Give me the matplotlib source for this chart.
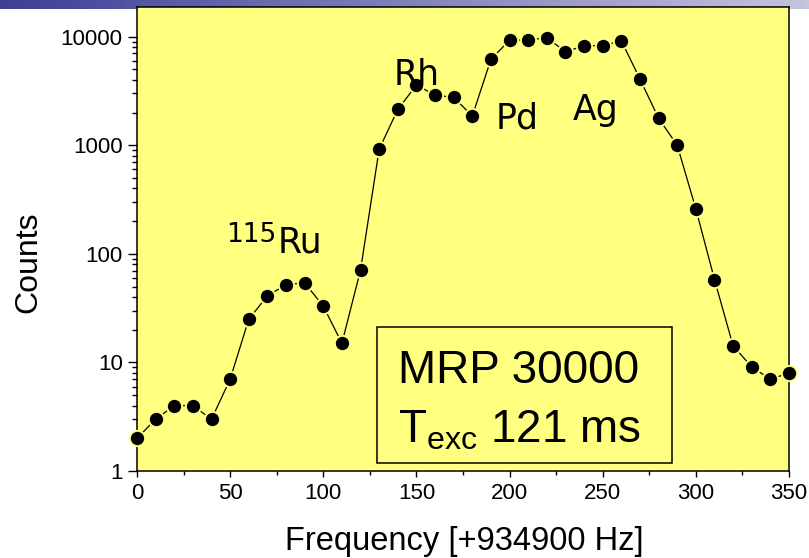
import matplotlib
matplotlib.use("Agg")
import matplotlib.pyplot as plt
import numpy as np
from matplotlib.patches import Rectangle
from matplotlib.ticker import FixedLocator, LogLocator, MultipleLocator, NullFormatter

plt.rcParams.update({"font.family": ["Liberation Sans", "DejaVu Sans"],
                     "mathtext.default": "regular"})

# ---- data ----
freq = [0, 10, 20, 30, 40, 50, 60, 70, 80, 90, 100, 110, 120, 130, 140, 150, 160, 170,
        180, 190, 200, 210, 220, 230, 240, 250, 260, 270, 280, 290, 300, 310, 320, 330, 340, 350]
counts = [2, 3, 4, 4, 3, 7, 25, 41, 52, 54, 33, 15, 71, 920, 2140, 3580, 2900, 2760,
          1860, 6180, 9300, 9300, 9780, 7260, 8250, 8250, 9170, 4070, 1770, 1000, 259, 58, 14.2, 9.1, 7.0, 8.0]
y_ticks = [1, 10, 100, 1000, 10000]
y_tick_labels = ["1", "10", "100", "1000", "10000"]
peak_labels = ["Rh", "Pd", "Ag"]
peak_x = [150, 204, 246]
peak_y = [3580, 1440, 1710]
ru_mass = "115"
ru_x = 75.3
ru_y = 102

bg_plot = "#FFFF80"

fig = plt.figure(figsize=(8.09, 5.58), dpi=100, facecolor="white")

# slide header strip (gradient)
strip = fig.add_axes([0, 1 - 9 / 558, 1, 9 / 558])
grad = np.linspace(0, 1, 256).reshape(1, -1)
strip.imshow(grad, aspect="auto", extent=[0, 1, 0, 1],
             cmap=matplotlib.colors.LinearSegmentedColormap.from_list("hdr", ["#3E3E96", "#C4C4DE"]))
strip.axis("off")

ax = fig.add_axes([137 / 809, 87 / 558, 652 / 809, 464 / 558])
ax.set_facecolor(bg_plot)

ax.plot(freq, counts, color="black", linewidth=0.9, marker="o", markersize=11,
        markerfacecolor="black", markeredgecolor=bg_plot, markeredgewidth=1.4,
        clip_on=False, zorder=3)

ax.set_yscale("log")
ax.set_xlim(0, 350)
ax.set_ylim(1, 18760)

ax.xaxis.set_major_locator(MultipleLocator(50))
ax.xaxis.set_minor_locator(MultipleLocator(25))
ax.yaxis.set_major_locator(FixedLocator(y_ticks))
ax.set_yticklabels(y_tick_labels)
ax.yaxis.set_minor_locator(LogLocator(base=10, subs=np.arange(2, 10)))
ax.yaxis.set_minor_formatter(NullFormatter())

ax.tick_params(axis="both", which="both", direction="out", width=1.0, labelsize=16)
ax.tick_params(axis="x", which="major", length=4.5, pad=4)
ax.tick_params(axis="x", which="minor", length=3)
ax.tick_params(axis="y", which="major", length=6.3, pad=4)
ax.tick_params(axis="y", which="minor", length=3.4)
for sp in ax.spines.values():
    sp.set_linewidth(1.1)

ax.set_xlabel("Frequency [+934900 Hz]", fontsize=23.5)
ax.xaxis.set_label_coords((464 - 137) / 652, (471 - 550) / 464)
ax.xaxis.label.set_va("baseline")
ax.set_ylabel("Counts", fontsize=23)
ax.yaxis.set_label_coords((28 - 137) / 652, (471 - 262) / 464)
ax.yaxis.label.set_va("center")

for lab, px, py in zip(peak_labels, peak_x, peak_y):
    ax.text(px, py, lab, fontsize=25, family="DejaVu Sans", ha="center", va="baseline", zorder=4)

# 115Ru: mass number as a raised smaller label
ax.text(ru_x, ru_y, "Ru", fontsize=25, family="DejaVu Sans", ha="left", va="baseline", zorder=4)
ax.annotate(ru_mass, xy=(ru_x, ru_y), xytext=(-1, 8), textcoords="offset points",
            fontsize=19, family="DejaVu Sans", ha="right", va="baseline", zorder=4)

# info box
ax.add_patch(Rectangle((0.368, 0.0172), 0.8206 - 0.368, 0.3103 - 0.0172, transform=ax.transAxes,
                       facecolor="none", edgecolor="black", linewidth=1.1, zorder=2))
ax.text(0.4003, 0.1897, "MRP 30000", transform=ax.transAxes, fontsize=33, ha="left", va="baseline")
ax.text(0.4003, 0.0625, r"T$_{exc}$ 121 ms", transform=ax.transAxes, fontsize=33, ha="left", va="baseline")

fig.savefig("out.png", dpi=100, facecolor="white")
